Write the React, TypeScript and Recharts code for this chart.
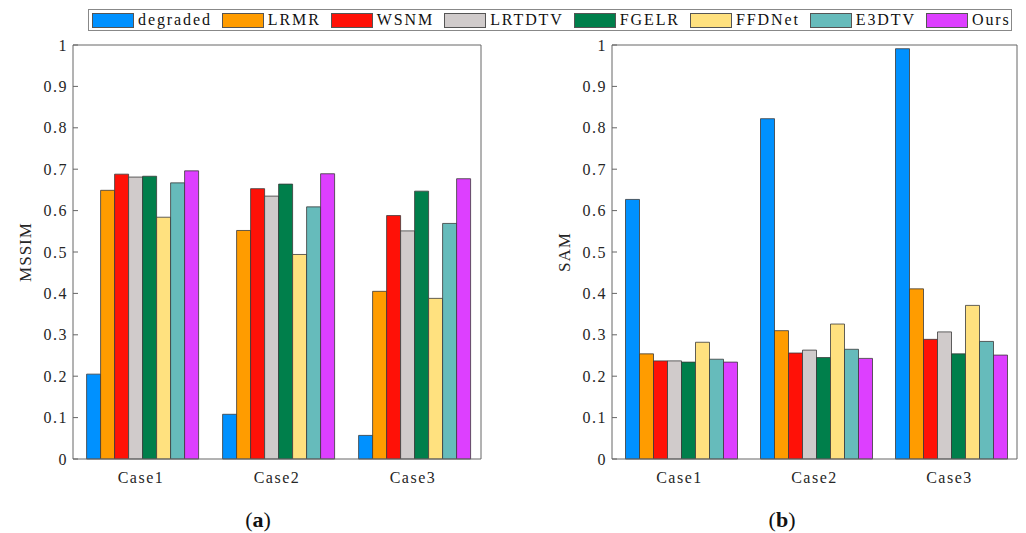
import React from 'react';
import { BarChart, Bar, XAxis, YAxis, Label } from 'recharts';

// categories and methods
const cases = ['Case1', 'Case2', 'Case3'];
const methods = ['degraded', 'LRMR', 'WSNM', 'LRTDTV', 'FGELR', 'FFDNet', 'E3DTV', 'Ours'];
const colors = ['#0091ff', '#ff9c00', '#ff1107', '#d0cbcb', '#007f4b', '#ffe17f', '#66bbbb', '#dd3fff'];
const yTicks = [0, 0.1, 0.2, 0.3, 0.4, 0.5, 0.6, 0.7, 0.8, 0.9, 1];

// MSSIM per method, Case1..Case3
const mssimDegraded = [0.205, 0.108, 0.057];
const mssimLRMR = [0.649, 0.552, 0.405];
const mssimWSNM = [0.688, 0.653, 0.588];
const mssimLRTDTV = [0.681, 0.635, 0.551];
const mssimFGELR = [0.683, 0.664, 0.647];
const mssimFFDNet = [0.584, 0.494, 0.388];
const mssimE3DTV = [0.667, 0.609, 0.569];
const mssimOurs = [0.696, 0.689, 0.677];

// SAM per method, Case1..Case3
const samDegraded = [0.627, 0.822, 0.991];
const samLRMR = [0.254, 0.31, 0.411];
const samWSNM = [0.237, 0.256, 0.289];
const samLRTDTV = [0.237, 0.263, 0.307];
const samFGELR = [0.234, 0.245, 0.254];
const samFFDNet = [0.282, 0.326, 0.371];
const samE3DTV = [0.241, 0.265, 0.284];
const samOurs = [0.234, 0.243, 0.251];

const mssimSeries = [mssimDegraded, mssimLRMR, mssimWSNM, mssimLRTDTV, mssimFGELR, mssimFFDNet, mssimE3DTV, mssimOurs];
const samSeries = [samDegraded, samLRMR, samWSNM, samLRTDTV, samFGELR, samFFDNet, samE3DTV, samOurs];

const buildRows = (series: number[][]) =>
  cases.map((c, i) => {
    const row: Record<string, string | number> = { case: c };
    methods.forEach((m, j) => {
      row[m] = series[j][i];
    });
    return row;
  });

const FONT = '"Liberation Serif", "Times New Roman", serif';
const AXIS = '#666';
const tickStyle = { fontSize: 16, fill: '#262626', fontFamily: FONT, letterSpacing: 1.5 };

const fmt = (v: number) => (v === 0 ? '0' : v === 1 ? '1' : String(v));

const Panel = ({ series, ylabel, left, width }: { series: number[][]; ylabel: string; left: number; width: number }) => (
  <div style={{ position: 'absolute', left, top: 0 }}>
    <BarChart
      width={width}
      height={533}
      data={buildRows(series)}
      margin={{ top: 44, right: 8, bottom: 44, left: 0 }}
      barCategoryGap="10%"
      barGap={0}
    >
      <XAxis
        dataKey="case"
        height={30}
        stroke={AXIS}
        tickLine={false}
        tickMargin={7}
        tick={tickStyle}
      />
      <XAxis
        xAxisId="top"
        dataKey="case"
        orientation="top"
        height={1}
        stroke={AXIS}
        tickSize={-5}
        tick={false}
      />
      <YAxis
        width={73}
        domain={[0, 1]}
        ticks={yTicks}
        interval={0}
        stroke={AXIS}
        tickSize={-5}
        tickMargin={10}
        tickFormatter={fmt}
        tick={tickStyle}
      >
        <Label
          value={ylabel}
          angle={-90}
          position="insideLeft"
          offset={25}
          style={{ textAnchor: 'middle', fontSize: 17, fill: '#262626', fontFamily: FONT, letterSpacing: 1 }}
        />
      </YAxis>
      <YAxis
        yAxisId="right"
        orientation="right"
        width={1}
        domain={[0, 1]}
        ticks={yTicks}
        interval={0}
        stroke={AXIS}
        tickSize={-5}
        tick={false}
      />
      {methods.map((m, j) => (
        <Bar key={m} dataKey={m} fill={colors[j]} stroke="#3a3a3a" strokeWidth={0.8} isAnimationActive={false} />
      ))}
    </BarChart>
  </div>
);

const Legend = () => (
  <div
    style={{
      position: 'absolute',
      left: 88,
      top: 9,
      width: 924,
      height: 22,
      border: '1px solid #888',
      display: 'flex',
      alignItems: 'center',
      paddingLeft: 3,
      boxSizing: 'border-box',
      fontFamily: FONT,
      fontSize: 16,
      letterSpacing: 1.9,
      color: '#111',
    }}
  >
    {methods.map((m, j) => (
      <div key={m} style={{ display: 'flex', alignItems: 'center', marginRight: 10 }}>
        <div
          style={{
            width: 40,
            height: 13,
            background: colors[j],
            border: '1px solid #555',
            marginRight: 4,
          }}
        />
        <span>{m}</span>
      </div>
    ))}
  </div>
);

const Caption = ({ letter, cx }: { letter: string; cx: number }) => (
  <div
    style={{
      position: 'absolute',
      left: cx - 30,
      width: 60,
      top: 507,
      textAlign: 'center',
      fontFamily: FONT,
      fontSize: 22,
      color: '#111',
    }}
  >
    (<b>{letter}</b>)
  </div>
);

export default function App() {
  return (
    <div style={{ position: 'absolute', left: 0, top: 0, width: 1026, height: 533, background: '#fff', overflow: 'hidden' }}>
      <Panel series={mssimSeries} ylabel="MSSIM" left={0} width={490} />
      <Panel series={samSeries} ylabel="SAM" left={539} width={487} />
      <Legend />
      <Caption letter="a" cx={258} />
      <Caption letter="b" cx={782} />
    </div>
  );
}
